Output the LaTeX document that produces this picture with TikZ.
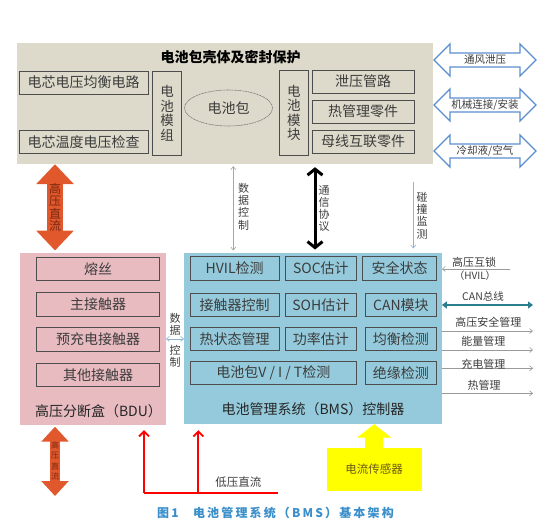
\documentclass[tikz,border=0pt]{standalone}
\usepackage{fontspec}
\setmainfont{Noto Sans CJK SC}
\newfontfamily\capfont{Noto Sans CJK SC}[LetterSpace=18]
\usetikzlibrary{arrows.meta,shapes.geometric}

\definecolor{shellgray}{HTML}{DDDACB}
\definecolor{bdupink}{HTML}{E8BBC0}
\definecolor{bmsblue}{HTML}{94CADB}
\definecolor{hvorange}{HTML}{E0582C}
\definecolor{hvtext}{HTML}{7A2810}
\definecolor{canteal}{HTML}{2B7E8E}
\definecolor{ventblue}{HTML}{5A8ECF}
\definecolor{boxline}{HTML}{4D4D4D}
\definecolor{txtgray}{HTML}{3C3C3C}
\definecolor{sigline}{HTML}{9A9A9A}
\definecolor{dataolive}{HTML}{A8A890}
\definecolor{crashblue}{HTML}{8FB3D9}
\definecolor{lvred}{HTML}{FF0000}
\definecolor{sensoryellow}{HTML}{FFFF00}
\definecolor{sensortext}{HTML}{6B5A1A}
\definecolor{captionblue}{HTML}{3A8FCB}

\begin{document}
\begin{tikzpicture}[x=1pt, y=-1pt,
  box/.style={draw=boxline, line width=0.9pt, inner sep=0pt, text=txtgray, font=\fontsize{14}{16}\selectfont},
  vbox/.style={box, align=center, font=\fontsize{13.5}{14.5}\selectfont},
  area/.style={inner sep=0pt, draw=none},
  lbl/.style={text=txtgray, inner sep=0pt, font=\fontsize{11}{12}\selectfont},
  vlbl/.style={lbl, align=center, font=\fontsize{11}{12.3}\selectfont},
  sig/.style={draw=sigline, line width=0.6pt, -{Straight Barb[length=3pt,width=5pt]}},
  barb/.tip={Straight Barb[length=3pt,width=5pt]}]

  %% ════ 电池包壳体 ════
  \node[area, fill=shellgray, minimum width=416.6pt, minimum height=120.7pt] (shell) at (225.0,103.65) {};
  \node[inner sep=0pt, font=\bfseries\fontsize{14}{16}\selectfont] (shelltitle) at (230.5,57.0) {电池包壳体及密封保护};

  \node[box, minimum width=128.7pt, minimum height=23pt] (cellbal) at (83.65,82.5) {电芯电压均衡电路};
  \node[box, minimum width=128.7pt, minimum height=23pt] (celltemp) at (83.65,142.0) {电芯温度电压检查};
  \node[vbox, minimum width=29pt, minimum height=84.7pt] (modgrp) at (167.2,113.35) {电\\池\\模\\组};
  \node[ellipse, draw=boxline!80, line width=0.6pt, dash pattern=on 1pt off 0.6pt, inner sep=0pt,
        minimum width=88pt, minimum height=36pt, text=txtgray, font=\fontsize{14}{16}\selectfont] (pack) at (228.5,108.0) {电池包};
  \node[vbox, minimum width=29pt, minimum height=85.7pt] (modblk) at (293.8,112.85) {电\\池\\模\\块};
  \node[box, minimum width=101.7pt, minimum height=23.3pt] (vent) at (363.15,81.65) {泄压管路};
  \node[box, minimum width=101.7pt, minimum height=23.3pt] (therm) at (363.15,111.65) {热管理零件};
  \node[box, minimum width=101.7pt, minimum height=23.3pt] (busbar) at (363.15,141.65) {母线互联零件};

  %% 右侧双向空心箭头
  \foreach \n/\y/\t in {airv/60/{通风泄压}, mech/105/{机械连接/安装}, cool/151/{冷却液/空气}} {
    \draw[ventblue, line width=1.3pt, fill=white, line join=miter]
      (434,\y) -- (450,\y-16) -- (450,\y-7) -- (520,\y-7) -- (520,\y-16) -- (536,\y)
      -- (520,\y+16) -- (520,\y+7) -- (450,\y+7) -- (450,\y+16) -- cycle;
    \node[lbl, font=\fontsize{10.5}{12}\selectfont] (\n) at (485,\y) {\t};
  }

  %% ════ 高压分断盒 BDU ════
  \node[area, fill=bdupink, minimum width=145.7pt, minimum height=172.3pt] (bdu) at (92.85,338.85) {};
  \foreach \n/\y/\t in {fuse/269.0/熔丝, mainc/304.35/主接触器, prec/339.35/预充电接触器, othc/375.0/其他接触器}
    \node[box, minimum width=122.6pt, minimum height=23.4pt] (\n) at (98.0,\y) {\t};
  \node[inner sep=0pt, text=black!85, font=\fontsize{14}{16}\selectfont] (bdutitle) at (98.5,411.5) {高压分断盒（BDU）};

  %% ════ BMS 控制器 ════
  \node[area, fill=bmsblue, minimum width=257.4pt, minimum height=171.3pt] (bms) at (313.0,338.35) {};
  \node[box, minimum width=89.3pt, minimum height=23.5pt] (hvil) at (234.65,268.35) {HVIL检测};
  \node[box, minimum width=71.7pt, minimum height=23.5pt] (soc) at (320.85,268.35) {SOC估计};
  \node[box, minimum width=74pt, minimum height=23.5pt] (safe) at (399.7,268.35) {安全状态};
  \node[box, minimum width=89.3pt, minimum height=23.5pt] (relay) at (234.65,304.7) {接触器控制};
  \node[box, minimum width=71.7pt, minimum height=23.5pt] (soh) at (320.85,304.7) {SOH估计};
  \node[box, minimum width=71.7pt, minimum height=23.5pt] (canm) at (400.85,304.7) {CAN模块};
  \node[box, minimum width=89.3pt, minimum height=23.5pt] (thst) at (234.65,339.0) {热状态管理};
  \node[box, minimum width=71.7pt, minimum height=23.5pt] (pwr) at (320.85,339.0) {功率估计};
  \node[box, minimum width=71.7pt, minimum height=23.5pt] (bal) at (400.85,339.0) {均衡检测};
  \node[box, minimum width=166.7pt, minimum height=23.5pt] (vit) at (273.35,373.0) {电池包V / I / T检测};
  \node[box, minimum width=71.7pt, minimum height=23.5pt] (iso) at (400.85,373.0) {绝缘检测};
  \node[inner sep=0pt, text=black!85, font=\fontsize{14}{16}\selectfont] (bmstitle) at (313.0,409.5) {电池管理系统（BMS）控制器};

  %% ════ 壳体与 BDU / BMS 之间 ════
  \coordinate (hvx) at (55,0);
  \draw[hvorange, line width=16.6pt, {Triangle[length=20pt,width=36.6pt]}-{Triangle[length=20pt,width=36.6pt]}, shorten >=2pt]
    (shell.south -| hvx) -- (bdu.north -| hvx);
  \node[vlbl, text=hvtext, font=\fontsize{12}{12.3}\selectfont] (hvtxtA) at (55,207.5) {高\\压\\直\\流};

  \coordinate (dcx) at (233.3,0);
  \draw[sig, draw=dataolive, barb-barb, shorten <=2pt, shorten >=2pt] (shell.south -| dcx) -- (bms.north -| dcx);
  \node[vlbl] (dctxt) at (243.5,206.5) {数\\据\\控\\制};

  \coordinate (comx) at (315,0);
  \draw[line width=3pt, {Straight Barb[length=6pt,width=15pt]}-{Straight Barb[length=6pt,width=15pt]},
        shorten <=3pt, shorten >=3pt] (shell.south -| comx) -- (bms.north -| comx);
  \node[vlbl] (comtxt) at (324.0,208.5) {通\\信\\协\\议};

  \coordinate (crash) at (413.3,181.7);
  \draw[sig, draw=crashblue, shorten >=4pt] (crash) -- (bms.north -| crash);
  \node[vlbl] (crashtxt) at (422.0,215.5) {碰\\撞\\监\\测};

  %% BDU <-> BMS
  \draw[sig, draw=crashblue, barb-barb] (bdu.east) -- (bdu.east -| bms.west);
  \node[vlbl] (bdtxtA) at (175.0,324.0) {数\\据};
  \node[vlbl] (bdtxtB) at (175.0,356.5) {控\\制};

  %% ════ BMS 右侧信号 ════
  \coordinate (hvilin) at (510,269);
  \draw[sig] (hvilin) -- (hvilin -| bms.east);
  \node[lbl] (hviltxt) at (474.0,262.7) {高压互锁};
  \node[lbl, font=\fontsize{10}{12}\selectfont] (hviltxtB) at (475.0,275.5) {（HVIL）};

  \coordinate (canbus) at (533,305);
  \draw[canteal, line width=2.6pt, {Triangle[length=5pt,width=7pt]}-{Triangle[length=5pt,width=7pt]}] (canbus -| bms.east) -- (canbus);
  \node[lbl, font=\fontsize{10.5}{12}\selectfont] (cantxt) at (483.0,296.7) {CAN总线};

  \foreach \n/\y/\ty/\tx/\t in {hvsafe/331/322.7/488.3/高压安全管理, energy/350/341.7/483.3/能量管理,
                                charge/368.3/364.0/483.3/充电管理, thermal/393.3/385.0/484.0/热管理} {
    \coordinate (\n) at (533,\y);
    \draw[sig] (\n -| bms.east) -- (\n);
    \node[lbl] (\n txt) at (\tx,\ty) {\t};
  }

  %% ════ 下方：高压直流 / 低压直流 / 电流传感器 ════
  \coordinate (hvend) at (55,496);
  \draw[hvorange, line width=10.6pt, {Triangle[length=15pt,width=26.6pt]}-{Triangle[length=15pt,width=26.6pt]}, shorten <=1.5pt]
    (bdu.south -| hvx) -- (hvend);
  \node[vlbl, text=hvtext, font=\fontsize{8}{10.5}\selectfont] (hvtxtB) at (55,461.0) {高\\压\\直\\流};

  \coordinate (lvA) at (144,492.7);
  \coordinate (lvB) at (198.3,492.7);
  \coordinate (lvend) at (278,492.7);
  \draw[lvred, line width=1.8pt] (lvA) -- (lvend);
  \draw[lvred, line width=1.8pt, -{Straight Barb[length=5pt,width=10pt]}, shorten >=5pt] (lvA) -- (bdu.south -| lvA);
  \draw[lvred, line width=1.8pt, -{Straight Barb[length=5pt,width=10pt]}, shorten >=6pt] (lvB) -- (bms.south -| lvB);
  \node[lbl, font=\fontsize{11.5}{13}\selectfont] (lvtxt) at (238.3,481.7) {低压直流};

  \node[area, fill=sensoryellow, minimum width=95pt, minimum height=42.4pt, text=sensortext,
        font=\fontsize{11.5}{13}\selectfont] (sensor) at (374.2,469.5) {电流传感器};
  \draw[sensoryellow, line width=18.3pt, -{Triangle[length=13.3pt,width=33.4pt]}] (sensor.north) -- (sensor.north |- bms.south);

  %% ════ 图题 ════
  \node[inner sep=0pt, text=captionblue, font=\capfont\bfseries\fontsize{12}{14}\selectfont] (caption) at (275.5,513.3)
    {图1\hspace{1.2em}电池管理系统（BMS）基本架构};

  \pgfresetboundingbox
  \path[use as bounding box] (0,0) rectangle (554,527);
\end{tikzpicture}
\end{document}
